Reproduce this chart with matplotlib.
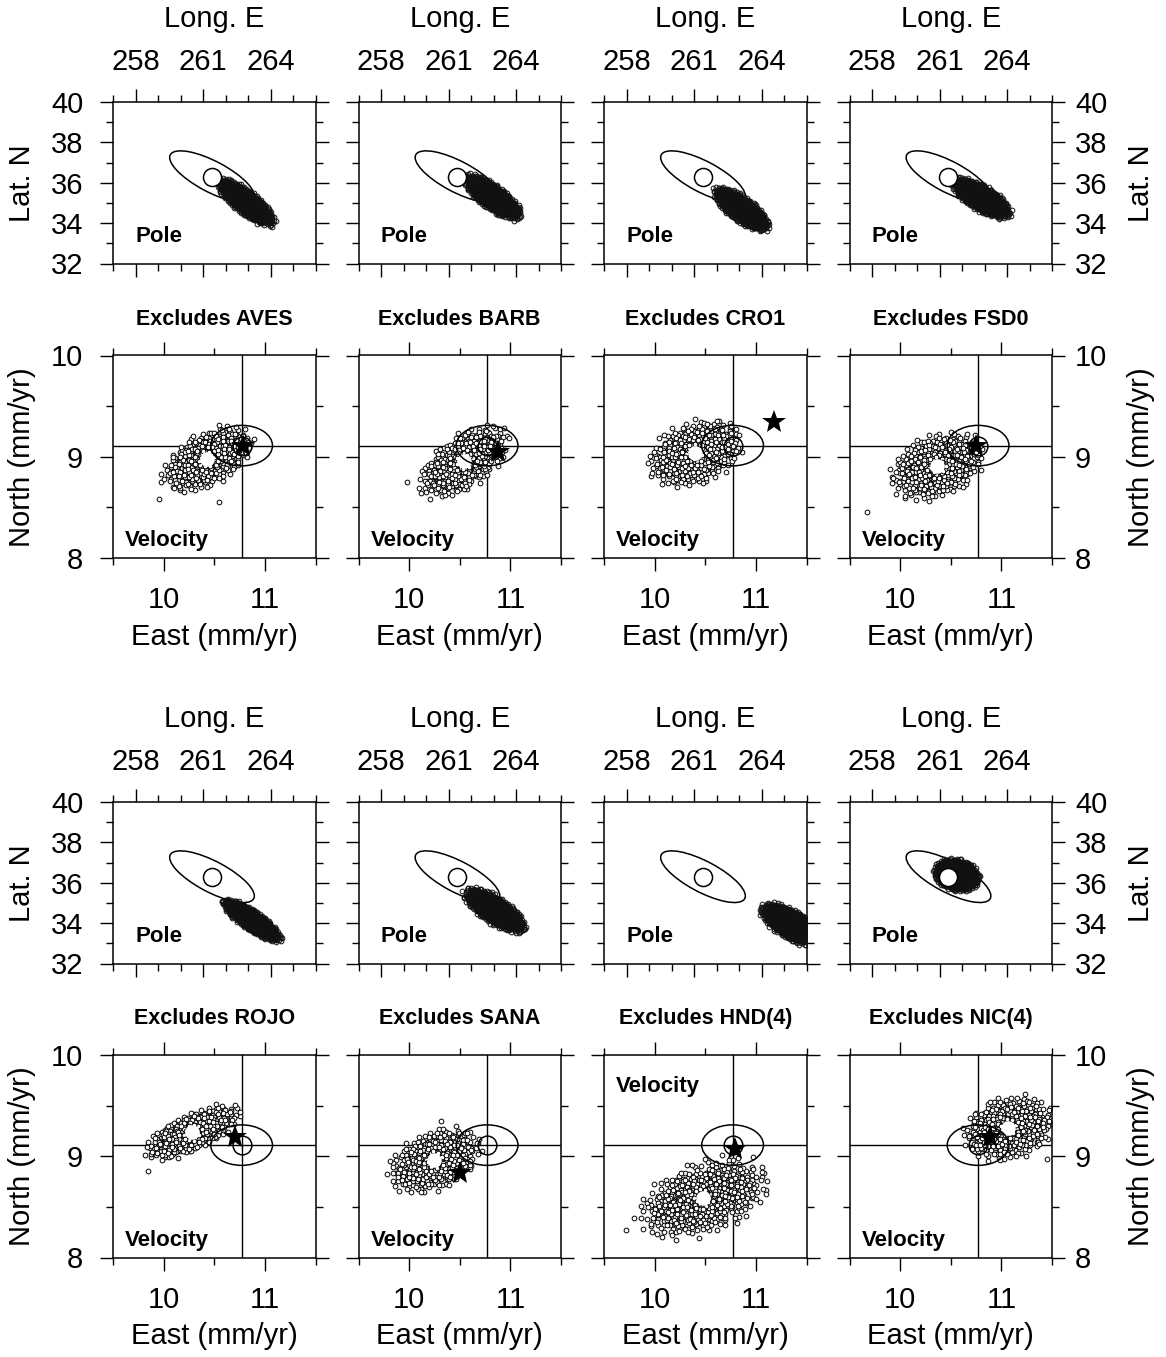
import numpy as np
import matplotlib.pyplot as plt
from matplotlib.patches import Ellipse

plt.rcParams['font.family'] = ['Liberation Sans', 'DejaVu Sans']

stations = ['AVES', 'BARB', 'CRO1', 'FSD0', 'ROJO', 'SANA', 'HND(4)', 'NIC(4)']

# reference pole (all stations) and its error ellipse: semi-major, semi-minor (deg), angle
ref_pole = (261.4, 36.3)
pole_ellipse = (2.15, 0.75, -31)

# pole clouds: centre, spread along / across, orientation (deg)
pole_lon = [262.9, 262.95, 263.1, 262.85, 263.15, 263.05, 265.3, 261.75]
pole_lat = [35.05, 35.3, 34.7, 35.25, 34.15, 34.65, 33.95, 36.4]
pole_s1 = [0.6, 0.58, 0.56, 0.56, 0.58, 0.6, 0.58, 0.38]
pole_s2 = [0.2, 0.21, 0.21, 0.22, 0.17, 0.23, 0.25, 0.28]
pole_ang = [-42, -40, -40, -35, -38, -37, -35, -20]

# observed velocity of the excluded site and its error ellipse (mm/yr)
ref_vel = (10.77, 9.11)
vel_ellipse = (0.305, 0.2)

# predicted velocity (star) per panel
star_e = [10.78, 10.88, 11.18, 10.75, 10.70, 10.50, 10.79, 10.89]
star_n = [9.11, 9.05, 9.34, 9.11, 9.19, 8.83, 9.07, 9.19]

# velocity clouds: mean, spread along / across, orientation (deg)
vel_e = [10.43, 10.54, 10.40, 10.36, 10.28, 10.25, 10.48, 11.07]
vel_n = [8.98, 8.955, 9.04, 8.91, 9.24, 8.96, 8.59, 9.28]
vel_s1 = [0.19, 0.2, 0.19, 0.19, 0.2, 0.19, 0.27, 0.18]
vel_s2 = [0.1, 0.1, 0.12, 0.12, 0.07, 0.11, 0.14, 0.12]
vel_ang = [30, 35, 22, 22, 25, 25, 20, 15]

# odd points standing apart from the clouds
extra_e = [[9.95, 10.55], [9.98], [], [9.67], [9.85], [10.31], [9.72], [11.45]]
extra_n = [[8.58, 8.55], [8.75], [], [8.45], [8.85], [9.35], [8.27], [8.97]]

velocity_label_top = [False] * 6 + [True, False]

n_pole = 2500
n_vel = 800
r_pole = 2.9
r_vel = 2.7

W, H = 1166, 1357
col_x = [113, 358.5, 604, 849.5]
pole_top = [102, 802]
vel_top = [355.5, 1055]
pw, ph, vh = 202.5, 161.5, 202.5


def halton(idx, base):
    out = np.zeros(len(idx))
    f = 1.0
    i = idx.copy()
    while np.any(i > 0):
        f /= base
        out += f * (i % base)
        i //= base
    return out


def cloud(cx, cy, s1, s2, ang, start, n, r_max):
    # deterministic low-discrepancy spread around the centre
    idx = np.arange(start, start + n)
    lo = np.exp(-r_max ** 2 / 2)
    u = lo + (1 - lo) * halton(idx, 2)
    v = halton(idx, 3)
    r = np.sqrt(-2 * np.log(u))
    t = 2 * np.pi * v
    a = s1 * r * np.cos(t)
    b = s2 * r * np.sin(t)
    th = np.radians(ang)
    return cx + a * np.cos(th) - b * np.sin(th), cy + a * np.sin(th) + b * np.cos(th)


def box(l, t, w, h):
    return [l / W, 1 - (t + h) / H, w / W, h / H]


def style(ax, col):
    for s in ax.spines.values():
        s.set_linewidth(1.1)
    ax.tick_params(which='both', direction='out', top=True, bottom=True,
                   left=True, right=True, width=1.0, labelsize=21,
                   labelleft=(col == 0), labelright=(col == 3))
    ax.tick_params(which='major', length=9.5)
    ax.tick_params(which='minor', length=5)
    ax.yaxis.set_tick_params(pad=12 if col == 0 else 7)


fig = plt.figure(figsize=(W / 100, H / 100), dpi=100)

for k, name in enumerate(stations):
    row, col = divmod(k, 4)
    x0 = col_x[col]

    # pole panel
    ax = fig.add_axes(box(x0, pole_top[row], pw, ph))
    ax.set_xlim(257, 266)
    ax.set_ylim(32, 40)
    ax.set_xticks([258, 261, 264])
    ax.set_xticks(range(257, 267), minor=True)
    ax.set_yticks(range(32, 41, 2))
    ax.set_yticks(range(33, 40, 2), minor=True)
    style(ax, col)
    ax.tick_params(axis='x', labeltop=True, labelbottom=False, pad=9)
    ax.add_patch(Ellipse(ref_pole, 2 * pole_ellipse[0], 2 * pole_ellipse[1],
                         angle=pole_ellipse[2], fill=False, lw=1.1, zorder=2))
    px, py = cloud(pole_lon[k], pole_lat[k], pole_s1[k], pole_s2[k], pole_ang[k],
                   1 + 3000 * k, n_pole, r_pole)
    ax.plot(px, py, 'o', ls='none', ms=3.4, mfc='none', mec='#111111', mew=0.7, zorder=3)
    ax.plot(*ref_pole, 'o', ms=13, mfc='white', mec='black', mew=1.1, zorder=4)
    ax.text(0.109, 0.17, 'Pole', transform=ax.transAxes, fontsize=16,
            fontweight='bold', ha='left', va='center')
    ax.text(0.5, 1.514, 'Long. E', transform=ax.transAxes, fontsize=21,
            ha='center', va='center')
    if col == 0:
        ax.text(-0.449, 0.5, 'Lat. N', transform=ax.transAxes, fontsize=21,
                rotation=90, ha='center', va='center')
    if col == 3:
        ax.text(1.44, 0.5, 'Lat. N', transform=ax.transAxes, fontsize=21,
                rotation=90, ha='center', va='center')

    # velocity panel
    ax = fig.add_axes(box(x0, vel_top[row], pw, vh))
    ax.set_xlim(9.5, 11.5)
    ax.set_ylim(8, 10)
    ax.set_xticks([10, 11])
    ax.set_xticks([9.5, 10.5, 11.5], minor=True)
    ax.set_yticks([8, 9, 10])
    ax.set_yticks([8.5, 9.5], minor=True)
    style(ax, col)
    ax.tick_params(axis='x', labeltop=False, labelbottom=True, pad=11)
    ax.axvline(ref_vel[0], color='black', lw=1.0, zorder=1)
    ax.axhline(ref_vel[1], color='black', lw=1.0, zorder=1)
    vx, vy = cloud(vel_e[k], vel_n[k], vel_s1[k], vel_s2[k], vel_ang[k],
                   1 + 3000 * k, n_vel, r_vel)
    ax.plot(vx, vy, 'o', ls='none', ms=3.4, mfc='white', mec='black', mew=0.7, zorder=2)
    if extra_e[k]:
        ax.plot(extra_e[k], extra_n[k], 'o', ls='none', ms=3.4, mfc='white',
                mec='black', mew=0.7, zorder=2)
    ax.plot(vel_e[k], vel_n[k], 'o', ms=10.5, mfc='white', mec='white', mew=0, zorder=3)
    ax.add_patch(Ellipse(ref_vel, 2 * vel_ellipse[0], 2 * vel_ellipse[1],
                         fill=False, lw=1.1, zorder=4))
    ax.plot(*ref_vel, 'o', ms=13.5, mfc='none', mec='black', mew=1.1, zorder=4)
    ax.plot(star_e[k], star_n[k], '*', ms=18, color='black', mew=0, zorder=5)
    vy_lab = 0.844 if velocity_label_top[k] else 0.085
    ax.text(0.06, vy_lab, 'Velocity', transform=ax.transAxes, fontsize=16,
            fontweight='bold', ha='left', va='center')
    ax.text(0.5, 1.18, 'Excludes ' + name, transform=ax.transAxes, fontsize=15.5,
            fontweight='bold', ha='center', va='center')
    ax.text(0.5, -0.39, 'East (mm/yr)', transform=ax.transAxes, fontsize=21,
            ha='center', va='center')
    if col == 0:
        ax.text(-0.449, 0.5, 'North (mm/yr)', transform=ax.transAxes, fontsize=21,
                rotation=90, ha='center', va='center')
    if col == 3:
        ax.text(1.44, 0.5, 'North (mm/yr)', transform=ax.transAxes, fontsize=21,
                rotation=90, ha='center', va='center')

fig.savefig('out.png', dpi=100)
